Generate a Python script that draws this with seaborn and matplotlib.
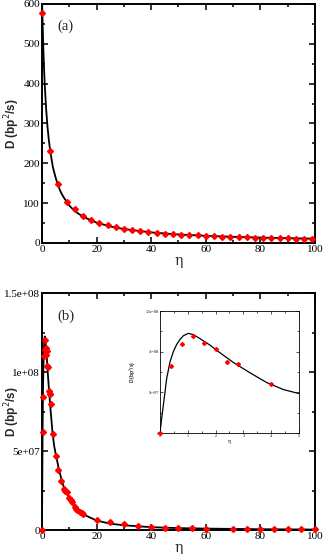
import matplotlib
matplotlib.use("Agg")
import matplotlib.pyplot as plt
import seaborn as sns
import numpy as np
from matplotlib.ticker import MultipleLocator

# ---------------- data ----------------
# panel (a): simulation points
eta_a = [0, 3, 6, 9, 12, 15, 18, 21, 24, 27, 30, 33, 36, 39, 42, 45, 48, 51,
         54, 57, 60, 63, 66, 69, 72, 75, 78, 81, 84, 87, 90, 93, 96, 99]
D_a = [578, 231, 147, 103, 85, 67, 57, 50, 46, 40, 35, 32.5, 30, 28.5, 26,
       23.5, 22.5, 21, 20, 19.3, 18.4, 17.6, 16, 16, 15, 14.2, 13.4, 12.6,
       12.6, 11.8, 11.7, 11.2, 10.9, 10.8]
# panel (a): theory curve
eta_a_line = [0.0, 0.1, 0.25, 0.5, 0.75, 1, 1.5, 2, 2.5, 3, 4, 5, 6, 7, 8, 10,
              12, 15, 20, 25, 30, 40, 50, 60, 70, 80, 90, 100]
D_a_line = [625, 588, 547, 486, 437, 399, 338, 293, 259, 232, 190, 164, 142,
            126, 114, 94, 80, 66, 51, 41.5, 35, 26.6, 21.4, 18, 15.5, 13.6,
            12.1, 10.9]

# panel (b): simulation points
eta_b = [0.0, 0.2, 0.4, 0.8, 1.0, 1.2, 1.4, 1.6, 1.8, 2.0, 2.2, 2.4, 2.8, 3.0,
         3.2, 4.0, 5.0, 6.0, 7.0, 8.0, 8.5, 9.0, 10.0, 10.5, 11.0, 12.0, 12.5,
         13.0, 14.0, 14.5, 15.0, 20, 25, 30, 35, 40, 45, 50, 55, 60, 70, 75,
         80, 85, 90, 95, 100]
D_b = [0, 62e6, 84e6, 110e6, 114e6, 120e6, 115e6, 111e6, 113e6, 104e6, 103e6,
       88e6, 86e6, 86e6, 80e6, 61e6, 47e6, 38e6, 31e6, 26e6, 25e6, 24e6, 20e6,
       19e6, 17.5e6, 14.5e6, 13.3e6, 12.5e6, 11.2e6, 10.5e6, 10e6, 6.3e6,
       4.9e6, 3.6e6, 2.7e6, 1.9e6, 1.5e6, 1.1e6, 1.0e6, 0.8e6, 0.5e6, 0.5e6,
       0.5e6, 0.5e6, 0.5e6, 0.5e6, 0.5e6]
# panel (b): theory curve
eta_b_line = [0.0, 0.06, 0.12, 0.24, 0.36, 0.48, 0.6, 0.72, 0.84, 1.02, 1.2,
              1.44, 1.8, 2.16, 2.64, 3.24, 3.84, 4.44, 5.0, 6, 7, 8, 10, 12,
              15, 20, 25, 30, 40, 50, 60, 80, 100]
D_b_line = [0, 18e6, 34e6, 67e6, 87.5e6, 100e6, 109e6, 115e6, 119.6e6,
            122.5e6, 121e6, 116e6, 108e6, 98.6e6, 86.7e6, 74e6, 62e6, 53.4e6,
            48.5e6, 40e6, 33e6, 27e6, 20e6, 15e6, 10e6, 6e6, 4e6, 3e6, 1.8e6,
            1.2e6, 0.9e6, 0.5e6, 0.3e6]

# inset: simulation points
eta_in = [0.0, 0.4, 0.8, 1.2, 1.6, 2.0, 2.4, 2.8, 4.0]
D_in = [0, 83e6, 109.7e6, 119.6e6, 111e6, 103e6, 86.7e6, 84.7e6, 60.4e6]

a_yticks = [0, 100, 200, 300, 400, 500, 600]
b_yticks = [0, 5e7, 1e8, 1.5e8]
b_yticklabels = ["0", "5e+07", "1e+08", "1.5e+08"]
xticks = [0, 20, 40, 60, 80, 100]
in_xticks = [0, 1, 2, 3, 4, 5]

# ---------------- style ----------------
sns.set_style("ticks")
plt.rcParams['font.family'] = ['Liberation Serif', 'DejaVu Serif']

RED = "#ff0000"
fig = plt.figure(figsize=(3.25, 5.54), dpi=100)
ax_a = fig.add_axes([0.1292, 0.5614, 0.84, 0.4314])
ax_b = fig.add_axes([0.1292, 0.0433, 0.84, 0.4278])
ax_in = fig.add_axes([0.4923, 0.2184, 0.4277, 0.2202])


def style_axes(ax, lw, maj, mnr, fs):
    for s in ax.spines.values():
        s.set_linewidth(lw)
        s.set_color("black")
    ax.tick_params(which="both", direction="in", top=True, right=True,
                   colors="black", labelsize=fs, width=lw * 0.8, pad=1.5)
    ax.tick_params(which="major", length=maj)
    ax.tick_params(which="minor", length=mnr)


def main_panel(ax, xl, yl, xline, yline, ylim, yticks, yminor, tag, tagy):
    sns.lineplot(x=xline, y=yline, ax=ax, color="black", lw=1.3,
                 sort=False, estimator=None)
    ax.plot(xl, yl, linestyle="none", marker="D", ms=3.0, color=RED,
            mec=RED, zorder=3, clip_on=False)
    ax.set_xlim(0, 100)
    ax.set_ylim(*ylim)
    ax.set_xticks(xticks)
    ax.xaxis.set_minor_locator(MultipleLocator(10))
    ax.set_yticks(yticks)
    ax.yaxis.set_minor_locator(MultipleLocator(yminor))
    style_axes(ax, 1.4, 4, 2.5, 8)
    ax.set_xlabel("η", fontsize=10, family=['DejaVu Serif'], labelpad=0)
    ax.set_ylabel("D (bp$^2$/s)", fontsize=8.5, fontweight="bold",
                  family=['Liberation Sans'])
    ax.yaxis.set_label_coords(-0.075, 0.5)
    ax.text(0.055, tagy, tag, transform=ax.transAxes, fontsize=10.5,
            ha="left", va="center")


main_panel(ax_a, eta_a, D_a, eta_a_line, D_a_line, (0, 600), a_yticks, 50,
           "(a)", 0.905)
main_panel(ax_b, eta_b, D_b, eta_b_line, D_b_line, (0, 1.5e8), b_yticks,
           2.5e7, "(b)", 0.9)
ax_b.set_yticklabels(b_yticklabels)

# ---- inset
sns.lineplot(x=eta_b_line, y=D_b_line, ax=ax_in, color="black", lw=0.9,
             sort=False, estimator=None)
ax_in.plot(eta_in, D_in, linestyle="none", marker="D", ms=2.0, color=RED,
           mec=RED, zorder=3, clip_on=False)
ax_in.set_xlim(0, 5)
ax_in.set_ylim(0, 1.5e8)
ax_in.set_xticks(in_xticks)
ax_in.xaxis.set_minor_locator(MultipleLocator(0.5))
ax_in.set_yticks(b_yticks)
ax_in.set_yticklabels(b_yticklabels)
ax_in.yaxis.set_minor_locator(MultipleLocator(2.5e7))
style_axes(ax_in, 0.6, 2.5, 1.5, 3)
ax_in.tick_params(pad=0.8)
ax_in.set_xlabel("η", fontsize=4, family=['DejaVu Serif'], labelpad=0.5)
ax_in.set_ylabel("D (bp$^2$/s)", fontsize=3.5, fontweight="bold",
                 family=['Liberation Sans'])
ax_in.yaxis.set_label_coords(-0.155, 0.5)

fig.savefig("out.png", dpi=100)
